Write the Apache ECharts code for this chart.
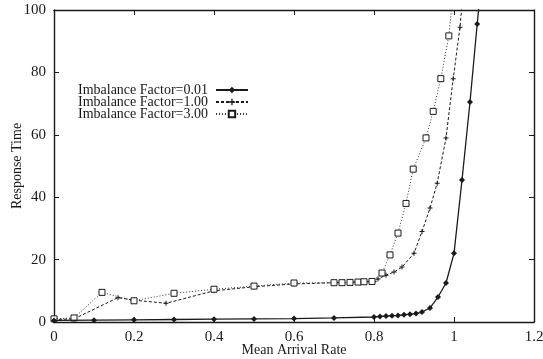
<!DOCTYPE html>
<html>
<head>
<meta charset="utf-8">
<script src="https://cdn.jsdelivr.net/npm/echarts@6/dist/echarts.min.js"></script>
<style>
  html, body { margin: 0; padding: 0; background: #fff; }
  #chart { width: 543px; height: 359px; }
</style>
</head>
<body>
<div id="chart"></div>
<script>
// Response time vs. mean arrival rate for three imbalance factors
const seriesNames = ['Imbalance Factor=0.01', 'Imbalance Factor=1.00', 'Imbalance Factor=3.00'];

const rateLow = [0, 0.1, 0.2, 0.3, 0.4, 0.5, 0.6, 0.7, 0.8, 0.815, 0.83, 0.845, 0.86, 0.875, 0.89, 0.905, 0.92, 0.94, 0.96, 0.98, 1.0, 1.02, 1.04, 1.058, 1.066];
const timeLow = [0.5, 0.6, 0.7, 0.8, 0.9, 1.0, 1.1, 1.3, 1.6, 1.8, 1.9, 2.0, 2.1, 2.3, 2.5, 2.7, 3.2, 4.5, 8, 12.5, 22, 45.5, 70.5, 95.5, 106];

const rateMid = [0, 0.05, 0.16, 0.2, 0.28, 0.4, 0.5, 0.6, 0.7, 0.8, 0.81, 0.83, 0.85, 0.87, 0.9, 0.92, 0.94, 0.958, 0.98, 0.998, 1.015, 1.024];
const timeMid = [0.8, 1.0, 7.8, 7.0, 6.0, 10.0, 11.3, 12.2, 12.6, 13.0, 13.8, 15.0, 16.0, 17.6, 22, 29, 36.5, 44.5, 59, 78, 94.5, 108];

const rateHigh = [0, 0.05, 0.12, 0.2, 0.3, 0.4, 0.5, 0.6, 0.7, 0.72, 0.74, 0.76, 0.775, 0.795, 0.82, 0.84, 0.86, 0.88, 0.898, 0.93, 0.948, 0.967, 0.987, 1.0];
const timeHigh = [1.0, 1.3, 9.5, 6.8, 9.2, 10.5, 11.5, 12.5, 12.6, 12.6, 12.7, 12.8, 12.9, 13.0, 15.7, 21.5, 28.5, 38, 49, 59, 67.5, 78, 91.7, 108];

const xTicks = { min: 0, max: 1.2, interval: 0.2 };
const yTicks = { min: 0, max: 100, interval: 20 };

const pair = (xs, ys) => xs.map((x, i) => [x, ys[i]]);

const serif = '"Liberation Serif", "DejaVu Serif", serif';
const ink = '#1a1a1a';
const plusPath = 'path://M4,0h2v4h4v2h-4v4h-2v-4h-4v-2h4z';

const frameAxis = {
  axisLine: { show: true, onZero: false, lineStyle: { color: ink, width: 1.4 } },
  axisTick: { show: true, inside: true, length: 5, lineStyle: { color: ink, width: 1 } },
  splitLine: { show: false }
};

const option = {
  animation: false,
  backgroundColor: '#fff',
  textStyle: { fontFamily: serif, color: ink },
  grid: { left: 54, right: 9, top: 10, bottom: 37, containLabel: false, outerBoundsMode: 'none' },
  legend: {
    orient: 'vertical',
    left: 73,
    top: 78,
    align: 'right',
    itemWidth: 32,
    itemHeight: 8,
    itemGap: -2,
    textStyle: { fontFamily: serif, fontSize: 14, lineHeight: 12.5, color: ink, padding: [0, 3, 0, 0] },
    data: seriesNames
  },
  xAxis: [
    Object.assign({
      type: 'value', position: 'bottom',
      min: xTicks.min, max: xTicks.max, interval: xTicks.interval,
      name: 'Mean Arrival Rate', nameLocation: 'middle', nameGap: 21, nameMoveOverlap: false,
      nameTextStyle: { fontFamily: serif, fontSize: 14, color: ink },
      axisLabel: { fontFamily: serif, fontSize: 15, color: ink, margin: 8 }
    }, frameAxis),
    Object.assign({
      type: 'value', position: 'top',
      min: xTicks.min, max: xTicks.max, interval: xTicks.interval,
      axisLabel: { show: false }
    }, frameAxis)
  ],
  yAxis: [
    Object.assign({
      type: 'value', position: 'left',
      min: yTicks.min, max: yTicks.max, interval: yTicks.interval,
      name: 'Response Time', nameLocation: 'middle', nameGap: 30, nameMoveOverlap: false,
      nameTextStyle: { fontFamily: serif, fontSize: 14, color: ink },
      axisLabel: { fontFamily: serif, fontSize: 15, color: ink, margin: 8 }
    }, frameAxis),
    Object.assign({
      type: 'value', position: 'right',
      min: yTicks.min, max: yTicks.max, interval: yTicks.interval,
      axisLabel: { show: false }
    }, frameAxis)
  ],
  series: [
    {
      name: seriesNames[0], type: 'line', clip: true,
      data: pair(rateLow, timeLow),
      symbol: 'diamond', symbolSize: 6,
      itemStyle: { color: ink },
      lineStyle: { color: ink, width: 1.3, type: 'solid' },
      z: 3
    },
    {
      name: seriesNames[1], type: 'line', clip: true,
      data: pair(rateMid, timeMid),
      symbol: plusPath, symbolSize: 5,
      itemStyle: { color: ink },
      lineStyle: { color: ink, width: 1, type: [3, 2] },
      z: 2
    },
    {
      name: seriesNames[2], type: 'line', clip: true,
      data: pair(rateHigh, timeHigh),
      symbol: 'rect', symbolSize: 6,
      itemStyle: { color: '#fff', borderColor: ink, borderWidth: 1 },
      lineStyle: { color: '#333', width: 1, type: [1, 2] },
      z: 2
    }
  ]
};

const chart = echarts.init(document.getElementById('chart'), null, { renderer: 'canvas' });
chart.setOption(option);
</script>
</body>
</html>
